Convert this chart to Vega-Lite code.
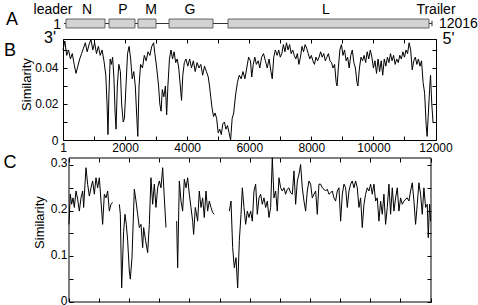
{
  "$schema": "https://vega.github.io/schema/vega-lite/v6.json",
  "padding": {"left": 3, "top": 2, "right": 0, "bottom": 0},
  "spacing": 11,
  "bounds": "flush",
  "config": {
    "font": "Liberation Sans",
    "view": {"stroke": null},
    "axis": {"grid": false, "labelFont": "Liberation Sans", "labelFontSize": 12, "labelColor": "#000", "tickColor": "#000", "domainColor": "#000", "tickSize": -4, "labelFlush": false, "title": null}
  },
  "datasets": {
    "one": [{}],
    "genes": [
      {"gene": "N", "start": 66, "end": 1340},
      {"gene": "P", "start": 1470, "end": 2319},
      {"gene": "M", "start": 2417, "end": 3005},
      {"gene": "G", "start": 3429, "end": 4866},
      {"gene": "L", "start": 5356, "end": 11918}
    ],
    "labels": [
      {"label": "leader", "pos": -359},
      {"label": "N", "pos": 752},
      {"label": "P", "pos": 1927},
      {"label": "M", "pos": 2841},
      {"label": "G", "pos": 4115},
      {"label": "L", "pos": 8555},
      {"label": "Trailer", "pos": 12147}
    ],
    "simB": [
      {"pos":1,"sim":0.050},{"pos":60,"sim":0.055},{"pos":120,"sim":0.047},{"pos":180,"sim":0.050},{"pos":240,"sim":0.045},{"pos":300,"sim":0.048},{"pos":360,"sim":0.042},{"pos":420,"sim":0.037},{"pos":480,"sim":0.041},{"pos":540,"sim":0.045},{"pos":600,"sim":0.048},{"pos":660,"sim":0.051},{"pos":720,"sim":0.054},{"pos":780,"sim":0.049},{"pos":840,"sim":0.053},{"pos":900,"sim":0.056},{"pos":960,"sim":0.050},{"pos":1020,"sim":0.054},{"pos":1080,"sim":0.048},{"pos":1140,"sim":0.052},{"pos":1200,"sim":0.047},{"pos":1260,"sim":0.050},{"pos":1320,"sim":0.044},{"pos":1380,"sim":0.036},{"pos":1420,"sim":0.020},{"pos":1450,"sim":0.003},{"pos":1480,"sim":0.025},{"pos":1520,"sim":0.045},{"pos":1560,"sim":0.042},{"pos":1600,"sim":0.046},{"pos":1640,"sim":0.035},{"pos":1680,"sim":0.015},{"pos":1710,"sim":0.006},{"pos":1750,"sim":0.030},{"pos":1800,"sim":0.042},{"pos":1850,"sim":0.038},{"pos":1890,"sim":0.020},{"pos":1940,"sim":0.010},{"pos":1980,"sim":0.012},{"pos":2030,"sim":0.030},{"pos":2080,"sim":0.048},{"pos":2130,"sim":0.052},{"pos":2180,"sim":0.045},{"pos":2230,"sim":0.034},{"pos":2280,"sim":0.038},{"pos":2330,"sim":0.030},{"pos":2380,"sim":0.012},{"pos":2410,"sim":0.002},{"pos":2450,"sim":0.030},{"pos":2500,"sim":0.042},{"pos":2560,"sim":0.040},{"pos":2620,"sim":0.047},{"pos":2680,"sim":0.044},{"pos":2740,"sim":0.049},{"pos":2800,"sim":0.047},{"pos":2860,"sim":0.052},{"pos":2920,"sim":0.054},{"pos":2960,"sim":0.048},{"pos":3020,"sim":0.040},{"pos":3080,"sim":0.030},{"pos":3120,"sim":0.020},{"pos":3160,"sim":0.016},{"pos":3200,"sim":0.028},{"pos":3250,"sim":0.024},{"pos":3300,"sim":0.030},{"pos":3340,"sim":0.014},{"pos":3380,"sim":0.030},{"pos":3430,"sim":0.045},{"pos":3480,"sim":0.050},{"pos":3530,"sim":0.045},{"pos":3580,"sim":0.049},{"pos":3630,"sim":0.043},{"pos":3680,"sim":0.045},{"pos":3730,"sim":0.040},{"pos":3780,"sim":0.030},{"pos":3820,"sim":0.022},{"pos":3860,"sim":0.036},{"pos":3910,"sim":0.043},{"pos":3960,"sim":0.045},{"pos":4020,"sim":0.041},{"pos":4080,"sim":0.045},{"pos":4140,"sim":0.040},{"pos":4200,"sim":0.044},{"pos":4260,"sim":0.038},{"pos":4320,"sim":0.043},{"pos":4380,"sim":0.040},{"pos":4440,"sim":0.042},{"pos":4500,"sim":0.036},{"pos":4560,"sim":0.041},{"pos":4620,"sim":0.038},{"pos":4680,"sim":0.035},{"pos":4720,"sim":0.030},{"pos":4760,"sim":0.024},{"pos":4800,"sim":0.018},{"pos":4850,"sim":0.013},{"pos":4900,"sim":0.015},{"pos":4950,"sim":0.012},{"pos":5000,"sim":0.004},{"pos":5050,"sim":0.006},{"pos":5100,"sim":0.003},{"pos":5150,"sim":0.009},{"pos":5200,"sim":0.010},{"pos":5250,"sim":0.006},{"pos":5300,"sim":0.008},{"pos":5350,"sim":0.004},{"pos":5400,"sim":0.000},{"pos":5450,"sim":0.012},{"pos":5500,"sim":0.015},{"pos":5560,"sim":0.025},{"pos":5620,"sim":0.032},{"pos":5680,"sim":0.036},{"pos":5740,"sim":0.034},{"pos":5800,"sim":0.038},{"pos":5860,"sim":0.034},{"pos":5920,"sim":0.040},{"pos":5980,"sim":0.046},{"pos":6040,"sim":0.044},{"pos":6080,"sim":0.035},{"pos":6130,"sim":0.042},{"pos":6180,"sim":0.046},{"pos":6230,"sim":0.042},{"pos":6290,"sim":0.044},{"pos":6340,"sim":0.040},{"pos":6400,"sim":0.046},{"pos":6460,"sim":0.048},{"pos":6520,"sim":0.044},{"pos":6580,"sim":0.040},{"pos":6640,"sim":0.045},{"pos":6700,"sim":0.038},{"pos":6741,"sim":0.034},{"pos":6790,"sim":0.046},{"pos":6840,"sim":0.050},{"pos":6900,"sim":0.047},{"pos":6950,"sim":0.050},{"pos":7000,"sim":0.046},{"pos":7050,"sim":0.048},{"pos":7100,"sim":0.053},{"pos":7150,"sim":0.049},{"pos":7200,"sim":0.054},{"pos":7250,"sim":0.050},{"pos":7300,"sim":0.053},{"pos":7350,"sim":0.048},{"pos":7400,"sim":0.050},{"pos":7450,"sim":0.047},{"pos":7500,"sim":0.045},{"pos":7550,"sim":0.048},{"pos":7600,"sim":0.042},{"pos":7650,"sim":0.046},{"pos":7700,"sim":0.052},{"pos":7750,"sim":0.049},{"pos":7800,"sim":0.053},{"pos":7850,"sim":0.051},{"pos":7900,"sim":0.048},{"pos":7950,"sim":0.045},{"pos":8000,"sim":0.047},{"pos":8050,"sim":0.044},{"pos":8100,"sim":0.042},{"pos":8150,"sim":0.046},{"pos":8200,"sim":0.044},{"pos":8250,"sim":0.046},{"pos":8300,"sim":0.049},{"pos":8350,"sim":0.046},{"pos":8400,"sim":0.048},{"pos":8450,"sim":0.044},{"pos":8500,"sim":0.046},{"pos":8550,"sim":0.048},{"pos":8600,"sim":0.044},{"pos":8650,"sim":0.043},{"pos":8700,"sim":0.040},{"pos":8750,"sim":0.042},{"pos":8800,"sim":0.032},{"pos":8830,"sim":0.030},{"pos":8870,"sim":0.040},{"pos":8920,"sim":0.050},{"pos":8970,"sim":0.053},{"pos":9020,"sim":0.047},{"pos":9070,"sim":0.050},{"pos":9120,"sim":0.044},{"pos":9170,"sim":0.046},{"pos":9220,"sim":0.040},{"pos":9270,"sim":0.047},{"pos":9320,"sim":0.050},{"pos":9370,"sim":0.043},{"pos":9420,"sim":0.040},{"pos":9470,"sim":0.032},{"pos":9500,"sim":0.030},{"pos":9550,"sim":0.040},{"pos":9600,"sim":0.046},{"pos":9650,"sim":0.044},{"pos":9700,"sim":0.047},{"pos":9750,"sim":0.043},{"pos":9800,"sim":0.049},{"pos":9850,"sim":0.045},{"pos":9900,"sim":0.050},{"pos":9950,"sim":0.046},{"pos":10000,"sim":0.040},{"pos":10050,"sim":0.044},{"pos":10100,"sim":0.037},{"pos":10150,"sim":0.045},{"pos":10200,"sim":0.038},{"pos":10250,"sim":0.044},{"pos":10300,"sim":0.036},{"pos":10350,"sim":0.045},{"pos":10400,"sim":0.041},{"pos":10450,"sim":0.046},{"pos":10500,"sim":0.043},{"pos":10550,"sim":0.048},{"pos":10600,"sim":0.044},{"pos":10650,"sim":0.047},{"pos":10700,"sim":0.042},{"pos":10750,"sim":0.045},{"pos":10800,"sim":0.043},{"pos":10850,"sim":0.047},{"pos":10900,"sim":0.045},{"pos":10950,"sim":0.049},{"pos":11000,"sim":0.046},{"pos":11050,"sim":0.050},{"pos":11100,"sim":0.048},{"pos":11150,"sim":0.054},{"pos":11200,"sim":0.050},{"pos":11250,"sim":0.039},{"pos":11300,"sim":0.044},{"pos":11350,"sim":0.046},{"pos":11400,"sim":0.042},{"pos":11450,"sim":0.045},{"pos":11500,"sim":0.041},{"pos":11550,"sim":0.044},{"pos":11600,"sim":0.032},{"pos":11650,"sim":0.026},{"pos":11700,"sim":0.008},{"pos":11730,"sim":0.002},{"pos":11770,"sim":0.015},{"pos":11810,"sim":0.028},{"pos":11840,"sim":0.036},{"pos":11880,"sim":0.020},{"pos":11920,"sim":0.010}
    ],
    "simC": [
      {"pos":1,"sim":0.170},{"pos":45,"sim":0.236},{"pos":89,"sim":0.214},{"pos":134,"sim":0.228},{"pos":178,"sim":0.207},{"pos":233,"sim":0.243},{"pos":289,"sim":0.225},{"pos":344,"sim":0.199},{"pos":399,"sim":0.228},{"pos":455,"sim":0.243},{"pos":488,"sim":0.207},{"pos":532,"sim":0.258},{"pos":565,"sim":0.294},{"pos":620,"sim":0.258},{"pos":676,"sim":0.232},{"pos":731,"sim":0.250},{"pos":786,"sim":0.265},{"pos":842,"sim":0.236},{"pos":897,"sim":0.272},{"pos":952,"sim":0.250},{"pos":1008,"sim":0.272},{"pos":1063,"sim":0.221},{"pos":1118,"sim":0.170},{"pos":1174,"sim":0.236},{"pos":1229,"sim":0.228},{"pos":1284,"sim":0.243},{"pos":1340,"sim":0.199},{"pos":1395,"sim":0.214},{"pos":1450,"sim":0.218},
      {"pos":1550,"sim":null},
      {"pos":1672,"sim":0.214},{"pos":1705,"sim":0.192},{"pos":1749,"sim":0.031},{"pos":1815,"sim":0.155},{"pos":1859,"sim":0.192},{"pos":1904,"sim":0.170},{"pos":1948,"sim":0.134},{"pos":2003,"sim":0.068},{"pos":2036,"sim":0.050},{"pos":2092,"sim":0.097},{"pos":2169,"sim":0.247},{"pos":2225,"sim":0.221},{"pos":2280,"sim":0.192},{"pos":2335,"sim":0.163},{"pos":2391,"sim":0.170},{"pos":2446,"sim":0.119},{"pos":2479,"sim":0.163},{"pos":2545,"sim":0.134},{"pos":2612,"sim":0.108},{"pos":2667,"sim":0.170},{"pos":2722,"sim":0.272},{"pos":2778,"sim":0.214},{"pos":2833,"sim":0.258},{"pos":2888,"sim":0.207},{"pos":2944,"sim":0.250},{"pos":2999,"sim":0.265},{"pos":3054,"sim":0.250},{"pos":3110,"sim":0.294},{"pos":3165,"sim":0.228},{"pos":3220,"sim":0.163},
      {"pos":3400,"sim":null},
      {"pos":3574,"sim":0.177},{"pos":3607,"sim":0.075},{"pos":3663,"sim":0.265},{"pos":3718,"sim":0.221},{"pos":3773,"sim":0.199},{"pos":3829,"sim":0.269},{"pos":3884,"sim":0.250},{"pos":3939,"sim":0.272},{"pos":3995,"sim":0.236},{"pos":4050,"sim":0.207},{"pos":4105,"sim":0.177},{"pos":4138,"sim":0.148},{"pos":4194,"sim":0.207},{"pos":4271,"sim":0.177},{"pos":4326,"sim":0.243},{"pos":4382,"sim":0.207},{"pos":4437,"sim":0.228},{"pos":4492,"sim":0.185},{"pos":4548,"sim":0.243},{"pos":4603,"sim":0.199},{"pos":4658,"sim":0.221},{"pos":4714,"sim":0.207},{"pos":4769,"sim":0.196},{"pos":4824,"sim":0.192},
      {"pos":5000,"sim":null},
      {"pos":5322,"sim":0.199},{"pos":5378,"sim":0.221},{"pos":5433,"sim":0.119},{"pos":5488,"sim":0.075},{"pos":5544,"sim":0.097},{"pos":5599,"sim":0.031},{"pos":5654,"sim":0.134},{"pos":5710,"sim":0.192},{"pos":5754,"sim":0.250},{"pos":5809,"sim":0.207},{"pos":5864,"sim":0.170},{"pos":5920,"sim":0.199},{"pos":5975,"sim":0.185},{"pos":6030,"sim":0.199},{"pos":6085,"sim":0.177},{"pos":6141,"sim":0.243},{"pos":6196,"sim":0.258},{"pos":6251,"sim":0.192},{"pos":6307,"sim":0.228},{"pos":6362,"sim":0.236},{"pos":6417,"sim":0.214},{"pos":6473,"sim":0.228},{"pos":6528,"sim":0.207},{"pos":6583,"sim":0.221},{"pos":6638,"sim":0.185},{"pos":6694,"sim":0.207},{"pos":6749,"sim":0.316},{"pos":6804,"sim":0.228},{"pos":6860,"sim":0.243},{"pos":6915,"sim":0.199},{"pos":6970,"sim":0.272},{"pos":7026,"sim":0.250},{"pos":7081,"sim":0.243},{"pos":7136,"sim":0.250},{"pos":7191,"sim":0.236},{"pos":7247,"sim":0.247},{"pos":7302,"sim":0.250},{"pos":7357,"sim":0.239},{"pos":7413,"sim":0.236},{"pos":7468,"sim":0.287},{"pos":7523,"sim":0.214},{"pos":7579,"sim":0.265},{"pos":7634,"sim":0.280},{"pos":7689,"sim":0.301},{"pos":7744,"sim":0.250},{"pos":7800,"sim":0.221},{"pos":7855,"sim":0.199},{"pos":7910,"sim":0.243},{"pos":7966,"sim":0.265},{"pos":8021,"sim":0.258},{"pos":8076,"sim":0.228},{"pos":8132,"sim":0.236},{"pos":8187,"sim":0.243},{"pos":8242,"sim":0.192},{"pos":8297,"sim":0.258},{"pos":8353,"sim":0.258},{"pos":8408,"sim":0.250},{"pos":8463,"sim":0.247},{"pos":8519,"sim":0.243},{"pos":8574,"sim":0.247},{"pos":8629,"sim":0.236},{"pos":8685,"sim":0.239},{"pos":8740,"sim":0.243},{"pos":8795,"sim":0.228},{"pos":8850,"sim":0.221},{"pos":8906,"sim":0.243},{"pos":8961,"sim":0.250},{"pos":9016,"sim":0.177},{"pos":9072,"sim":0.236},{"pos":9127,"sim":0.258},{"pos":9182,"sim":0.250},{"pos":9238,"sim":0.207},{"pos":9293,"sim":0.243},{"pos":9348,"sim":0.258},{"pos":9403,"sim":0.265},{"pos":9459,"sim":0.250},{"pos":9514,"sim":0.265},{"pos":9569,"sim":0.250},{"pos":9625,"sim":0.207},{"pos":9680,"sim":0.228},{"pos":9735,"sim":0.163},{"pos":9791,"sim":0.214},{"pos":9846,"sim":0.236},{"pos":9901,"sim":0.250},{"pos":9956,"sim":0.243},{"pos":10012,"sim":0.258},{"pos":10067,"sim":0.236},{"pos":10122,"sim":0.258},{"pos":10178,"sim":0.221},{"pos":10233,"sim":0.228},{"pos":10288,"sim":0.177},{"pos":10344,"sim":0.221},{"pos":10399,"sim":0.192},{"pos":10454,"sim":0.236},{"pos":10509,"sim":0.170},{"pos":10565,"sim":0.207},{"pos":10620,"sim":0.258},{"pos":10675,"sim":0.192},{"pos":10731,"sim":0.250},{"pos":10786,"sim":0.199},{"pos":10841,"sim":0.228},{"pos":10897,"sim":0.250},{"pos":10952,"sim":0.199},{"pos":11007,"sim":0.228},{"pos":11062,"sim":0.214},{"pos":11118,"sim":0.221},{"pos":11173,"sim":0.225},{"pos":11228,"sim":0.228},{"pos":11284,"sim":0.221},{"pos":11339,"sim":0.243},{"pos":11394,"sim":0.261},{"pos":11450,"sim":0.221},{"pos":11505,"sim":0.170},{"pos":11560,"sim":0.214},{"pos":11615,"sim":0.261},{"pos":11671,"sim":0.236},{"pos":11726,"sim":0.192},{"pos":11781,"sim":0.250},{"pos":11836,"sim":0.207},{"pos":11892,"sim":0.214},{"pos":11925,"sim":0.141},{"pos":11969,"sim":0.214},{"pos":12003,"sim":0.177}
    ]
  },
  "vconcat": [
    {
      "width": 373,
      "height": 9,
      "layer": [
        {
          "data": {"name": "one"},
          "mark": {"type": "rule", "color": "#333", "strokeWidth": 1},
          "encoding": {
            "x": {"datum": 1, "type": "quantitative", "scale": {"domain": [-32, 12147]}, "axis": null},
            "x2": {"datum": 12016},
            "y": {"datum": 0.5, "type": "quantitative", "scale": {"domain": [0, 1]}, "axis": null}
          }
        },
        {
          "data": {"name": "one"},
          "mark": {"type": "rule", "color": "#333", "strokeWidth": 1},
          "encoding": {
            "x": {"datum": 12016, "type": "quantitative", "scale": {"domain": [-32, 12147]}, "axis": null},
            "y": {"datum": 0.2, "type": "quantitative", "scale": {"domain": [0, 1]}, "axis": null},
            "y2": {"datum": 0.8}
          }
        },
        {
          "data": {"name": "genes"},
          "mark": {"type": "rect", "fill": "#d3d3d3", "stroke": "#444", "strokeWidth": 0.8},
          "encoding": {
            "x": {"field": "start", "type": "quantitative", "scale": {"domain": [-32, 12147]}, "axis": null},
            "x2": {"field": "end"},
            "y": {"datum": 0, "type": "quantitative", "scale": {"domain": [0, 1]}, "axis": null},
            "y2": {"datum": 1}
          }
        },
        {
          "data": {"name": "labels"},
          "mark": {"type": "text", "fontSize": 14, "baseline": "alphabetic", "align": "center", "color": "#000"},
          "encoding": {
            "x": {"field": "pos", "type": "quantitative", "scale": {"domain": [-32, 12147]}, "axis": null},
            "y": {"datum": 1.6, "type": "quantitative", "scale": {"domain": [0, 1]}, "axis": null},
            "text": {"field": "label"}
          }
        },
        {
          "data": {"name": "one"},
          "mark": {"type": "text", "text": "A", "fontSize": 18, "baseline": "middle", "align": "center", "color": "#000"},
          "encoding": {
            "x": {"datum": -1697, "type": "quantitative", "scale": {"domain": [-32, 12147]}, "axis": null},
            "y": {"datum": 0.94, "type": "quantitative", "scale": {"domain": [0, 1]}, "axis": null}
          }
        },
        {
          "data": {"name": "one"},
          "mark": {"type": "text", "text": "1", "fontSize": 14, "baseline": "middle", "align": "right", "color": "#000"},
          "encoding": {
            "x": {"datum": -97, "type": "quantitative", "scale": {"domain": [-32, 12147]}, "axis": null},
            "y": {"datum": 0.36, "type": "quantitative", "scale": {"domain": [0, 1]}, "axis": null}
          }
        },
        {
          "data": {"name": "one"},
          "mark": {"type": "text", "text": "12016", "fontSize": 14, "baseline": "middle", "align": "left", "color": "#000"},
          "encoding": {
            "x": {"datum": 12244, "type": "quantitative", "scale": {"domain": [-32, 12147]}, "axis": null},
            "y": {"datum": 0.44, "type": "quantitative", "scale": {"domain": [0, 1]}, "axis": null}
          }
        }
      ]
    },
    {
      "width": 373,
      "height": 101,
      "layer": [
        {
          "data": {"name": "simB"},
          "mark": {"type": "line", "color": "#000", "strokeWidth": 1},
          "encoding": {
            "x": {"field": "pos", "type": "quantitative", "scale": {"domain": [1, 12016]},
              "axis": {"orient": "bottom", "values": [1,1000,2000,3000,4000,5000,6000,7000,8000,9000,10000,11000,12000], "format": "d", "labelExpr": "(datum.value % 2000 == 0 || datum.value == 1) ? datum.label : ''", "labelPadding": 6}},
            "y": {"field": "sim", "type": "quantitative", "scale": {"domain": [0, 0.0561]},
              "axis": {"orient": "left", "values": [0,0.01,0.02,0.03,0.04,0.05], "labelExpr": "datum.value == 0 ? '0' : ((datum.value == 0.02 || datum.value == 0.04) ? format(datum.value, '.2f') : '')", "labelPadding": 9}}
          }
        },
        {
          "data": {"name": "simB"},
          "mark": {"type": "line", "opacity": 0},
          "encoding": {
            "x": {"field": "pos", "type": "quantitative", "scale": {"domain": [1, 12016]},
              "axis": {"orient": "top", "values": [1,1000,2000,3000,4000,5000,6000,7000,8000,9000,10000,11000,12000], "labels": false}},
            "y": {"field": "sim", "type": "quantitative", "scale": {"domain": [0, 0.0561]},
              "axis": {"orient": "right", "values": [0,0.01,0.02,0.03,0.04,0.05], "labels": false}}
          }
        },
        {
          "data": {"name": "one"},
          "mark": {"type": "text", "text": "B", "fontSize": 18, "baseline": "middle", "align": "center", "color": "#000"},
          "encoding": {
            "x": {"datum": -1706, "type": "quantitative", "scale": {"domain": [1, 12016]}, "axis": null},
            "y": {"datum": 0.0494, "type": "quantitative", "scale": {"domain": [0, 0.0561]}, "axis": null}
          }
        },
        {
          "data": {"name": "one"},
          "mark": {"type": "text", "text": "3'", "fontSize": 16, "baseline": "middle", "align": "center", "color": "#000"},
          "encoding": {
            "x": {"datum": -418, "type": "quantitative", "scale": {"domain": [1, 12016]}, "axis": null},
            "y": {"datum": 0.0566, "type": "quantitative", "scale": {"domain": [0, 0.0561]}, "axis": null}
          }
        },
        {
          "data": {"name": "one"},
          "mark": {"type": "text", "text": "5'", "fontSize": 16, "baseline": "middle", "align": "center", "color": "#000"},
          "encoding": {
            "x": {"datum": 12418, "type": "quantitative", "scale": {"domain": [1, 12016]}, "axis": null},
            "y": {"datum": 0.056, "type": "quantitative", "scale": {"domain": [0, 0.0561]}, "axis": null}
          }
        },
        {
          "data": {"name": "one"},
          "mark": {"type": "text", "text": "Similarity", "fontSize": 13, "angle": 270, "baseline": "middle", "align": "center", "color": "#000"},
          "encoding": {
            "x": {"datum": -1159, "type": "quantitative", "scale": {"domain": [1, 12016]}, "axis": null},
            "y": {"datum": 0.0308, "type": "quantitative", "scale": {"domain": [0, 0.0561]}, "axis": null}
          }
        }
      ],
      "resolve": {"axis": {"x": "independent", "y": "independent"}}
    },
    {
      "width": 373,
      "height": 151,
      "layer": [
        {
          "data": {"name": "one"},
          "mark": {"type": "rect", "fillOpacity": 0, "stroke": "#000", "strokeWidth": 1},
          "encoding": {
            "x": {"datum": 1, "type": "quantitative", "scale": {"domain": [-198, 12182]}, "axis": null},
            "x2": {"datum": 12016},
            "y": {"datum": 0, "type": "quantitative", "scale": {"domain": [0, 0.3306]}, "axis": null},
            "y2": {"datum": 0.3153}
          }
        },
        {
          "data": {"name": "simC"},
          "mark": {"type": "line", "color": "#000", "strokeWidth": 1, "invalid": "break-paths-show-domains"},
          "encoding": {
            "x": {"field": "pos", "type": "quantitative", "scale": {"domain": [-198, 12182]},
              "axis": {"orient": "bottom", "values": [1,1000,2000,3000,4000,5000,6000,7000,8000,9000,10000,11000,12000], "labels": false, "domain": false}},
            "y": {"field": "sim", "type": "quantitative", "scale": {"domain": [0, 0.3306]},
              "axis": {"orient": "left", "offset": -6, "domain": false, "values": [0,0.05,0.1,0.15,0.2,0.25,0.3], "labelExpr": "datum.value == 0 ? '0' : ((datum.value == 0.1 || datum.value == 0.2 || datum.value == 0.3) ? format(datum.value, '.1f') : '')", "labelPadding": 6, "labelOffset": -2}}
          }
        },
        {
          "data": {"name": "simC"},
          "mark": {"type": "line", "opacity": 0, "invalid": "break-paths-show-domains"},
          "encoding": {
            "x": {"field": "pos", "type": "quantitative", "scale": {"domain": [-198, 12182]},
              "axis": {"orient": "top", "offset": -7, "values": [1,1000,2000,3000,4000,5000,6000,7000,8000,9000,10000,11000,12000], "labels": false, "domain": false}},
            "y": {"field": "sim", "type": "quantitative", "scale": {"domain": [0, 0.3306]},
              "axis": {"orient": "right", "offset": -5, "values": [0,0.05,0.1,0.15,0.2,0.25,0.3], "labels": false, "domain": false}}
          }
        },
        {
          "data": {"name": "one"},
          "mark": {"type": "text", "text": "C", "fontSize": 18, "baseline": "middle", "align": "center", "color": "#000"},
          "encoding": {
            "x": {"datum": -1957, "type": "quantitative", "scale": {"domain": [-198, 12182]}, "axis": null},
            "y": {"datum": 0.304, "type": "quantitative", "scale": {"domain": [0, 0.3306]}, "axis": null}
          }
        },
        {
          "data": {"name": "one"},
          "mark": {"type": "text", "text": "Similarity", "fontSize": 13, "angle": 270, "baseline": "middle", "align": "center", "color": "#000"},
          "encoding": {
            "x": {"datum": -961, "type": "quantitative", "scale": {"domain": [-198, 12182]}, "axis": null},
            "y": {"datum": 0.174, "type": "quantitative", "scale": {"domain": [0, 0.3306]}, "axis": null}
          }
        }
      ],
      "resolve": {"axis": {"x": "independent", "y": "independent"}}
    }
  ]
}
